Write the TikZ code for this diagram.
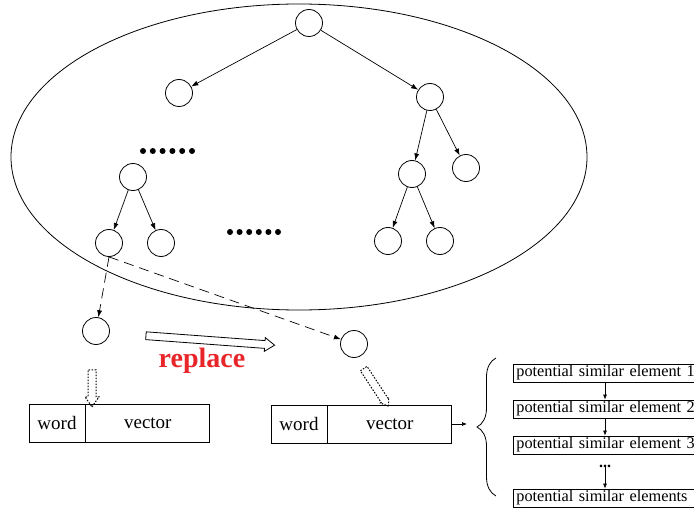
\documentclass[tikz,border=0pt]{standalone}
\usepackage{fontspec}
\setmainfont{Liberation Serif}
\usetikzlibrary{positioning,shapes.arrows,decorations.pathreplacing,arrows.meta}
\definecolor{replred}{RGB}{232,38,42}

\begin{document}
\begin{tikzpicture}[%
  x=1pt, y=-1pt,
  tnode/.style={draw, circle, minimum size=27pt, inner sep=0pt, line width=0.8pt},
  tedge/.style={-{Latex[length=7pt,width=5pt]}, line width=0.7pt},
  dedge/.style={tedge, dash pattern=on 10pt off 6pt},
  eedge/.style={-{Latex[length=5pt,width=4pt]}, line width=0.7pt},
  hollow/.style={draw, single arrow, inner sep=3.5pt, single arrow head extend=3pt,
    single arrow tip angle=70, line width=0.8pt, allow upside down},
  dotty/.style={line width=1pt, dash pattern=on 1.5pt off 1.5pt},
  cell/.style={draw, minimum height=38pt, inner sep=0pt, line width=0.8pt,
    font=\fontsize{19}{22}\selectfont},
  elem/.style={draw, anchor=west, text width=179pt, inner xsep=3pt, inner ysep=1pt,
    minimum height=18pt, line width=0.8pt, font=\fontsize{16.3}{17}\selectfont}]
\useasboundingbox (0,0) rectangle (694,508);

% the tree
\draw[line width=0.8pt] (299,157) ellipse [x radius=288, y radius=153];
\node[tnode] (root) at (309,23) {};
\node[tnode] (a) at (179,93) {};
\node[tnode] (b) at (430,97) {};
\node[tnode] (b1) at (412,174) {};
\node[tnode] (b2) at (466,168) {};
\node[tnode] (b11) at (388,241) {};
\node[tnode] (b12) at (440,241) {};
\node[tnode] (c) at (133,177) {};
\node[tnode] (c1) at (109,243) {};
\node[tnode] (c2) at (161,243) {};
\draw[tedge] (root) -- (a);
\draw[tedge] (root) -- (b);
\draw[tedge] (b) -- (b1);
\draw[tedge] (b) -- (b2);
\draw[tedge] (b1) -- (b11);
\draw[tedge] (b1) -- (b12);
\draw[tedge] (c) -- (c1);
\draw[tedge] (c) -- (c2);
\foreach \i in {0,...,5}
  \fill (143+9.8*\i,151) circle (3pt);
\foreach \i in {0,...,5}
  \fill (230+9.6*\i,232) circle (3pt);

% replacement
\node[tnode] (d) at (96,331) {};
\node[tnode] (e) at (354,344) {};
\draw[dedge] (c1.south) -- (d);
\draw[dedge] (c1.south) -- (e);
\coordinate (rA) at (143,335.5);
\coordinate (rB) at (272,345);
\path (rA) -- (rB) node[midway, sloped, hollow, minimum height=129pt] {};
\node[font=\bfseries\fontsize{28}{30}\selectfont, text=replred] (repl) at (202,361) {replace};

% word / vector records
\node[cell, minimum width=56pt] (word1) at (57,423) {word};
\node[cell, minimum width=124pt, right=0pt of word1] (vec1) {vector};
\node[cell, minimum width=56pt] (word2) at (299,424) {word};
\node[cell, minimum width=124pt, right=0pt of word2] (vec2) {vector};
\path (92,367) -- (92,404) node[midway, sloped, hollow, dotty, minimum height=37pt] {};
\path (362,366) -- (387,404) node[midway, sloped, hollow, dotty,
  single arrow head extend=1pt, minimum height=45pt] {};

% candidate list
\coordinate (bt) at (467,424);
\draw[eedge] (vec2) -- (bt);
\draw[decorate, decoration={brace, amplitude=19pt}, line width=0.8pt] (496,496) -- (496,358);
\node[elem] (el1) at (513,373) {potential similar element 1};
\node[elem] (el2) at (513,409) {potential similar element 2};
\node[elem] (el3) at (513,445) {potential similar element 3};
\node[elem] (el4) at (513,498) {potential similar elements};
\node[font=\bfseries\fontsize{16}{16}\selectfont, inner sep=0pt] (edots) at (605,466) {...};
\draw[eedge] (el1.south -| edots) -- (el2.north -| edots);
\draw[eedge] (el2.south -| edots) -- (el3.north -| edots);
\draw[eedge] (edots) -- (el4.north -| edots);
\end{tikzpicture}
\end{document}
